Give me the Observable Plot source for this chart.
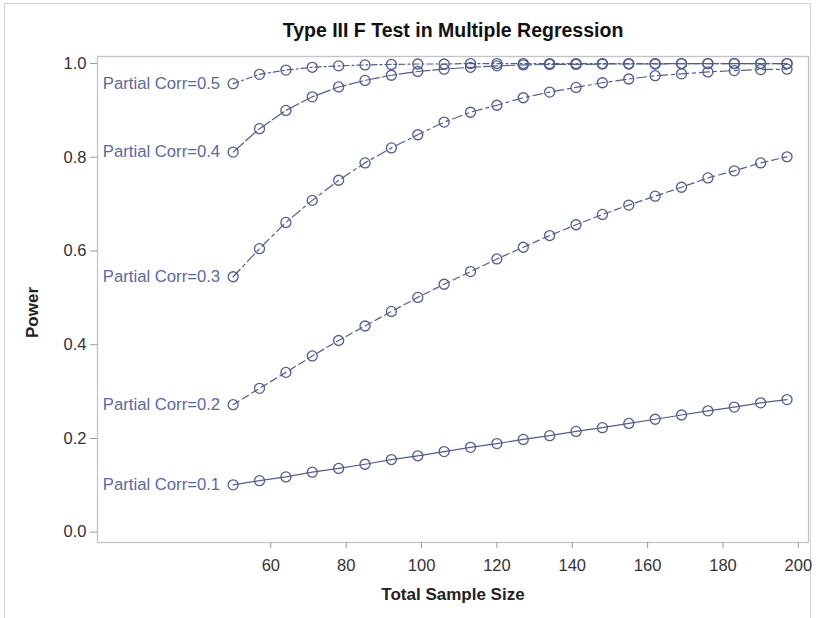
<!DOCTYPE html>
<html>
<head>
<meta charset="utf-8">
<script src="https://cdn.jsdelivr.net/npm/d3@7"></script>
<script src="https://cdn.jsdelivr.net/npm/@observablehq/plot@0.6"></script>
<style>
  html, body { margin: 0; padding: 0; background: #fff; }
  #wrap { position: relative; width: 816px; height: 618px; overflow: hidden; }
  #border { position: absolute; left: 4px; top: 3px; width: 807px; height: 640px; border: 1px solid #d4d4d4; box-sizing: border-box; }
  #chart { position: absolute; left: 0; top: 0; }
</style>
</head>
<body>
<div id="wrap"><div id="border"></div><div id="chart"></div></div>
<script>
const title = "Type III F Test in Multiple Regression";
const xLabel = "Total Sample Size";
const yLabel = "Power";
const sampleSizes = [50, 57, 64, 71, 78, 85, 92, 99, 106, 113, 120, 127, 134, 141, 148, 155, 162, 169, 176, 183, 190, 197];
const partialCorrs = ["0.1", "0.2", "0.3", "0.4", "0.5"];
const power01 = [0.101, 0.110, 0.118, 0.128, 0.136, 0.145, 0.155, 0.163, 0.172, 0.181, 0.189, 0.198, 0.206, 0.215, 0.223, 0.232, 0.241, 0.250, 0.259, 0.267, 0.276, 0.283];
const power02 = [0.272, 0.307, 0.341, 0.376, 0.409, 0.440, 0.471, 0.501, 0.529, 0.556, 0.583, 0.608, 0.633, 0.656, 0.678, 0.698, 0.717, 0.736, 0.756, 0.771, 0.788, 0.801];
const power03 = [0.545, 0.605, 0.661, 0.708, 0.751, 0.788, 0.820, 0.848, 0.875, 0.896, 0.911, 0.927, 0.939, 0.949, 0.959, 0.967, 0.974, 0.978, 0.982, 0.985, 0.987, 0.988];
const power04 = [0.811, 0.861, 0.900, 0.929, 0.950, 0.964, 0.975, 0.983, 0.988, 0.992, 0.995, 0.997, 0.998, 0.998, 0.999, 0.999, 0.999, 1.000, 1.000, 1.000, 1.000, 1.000];
const power05 = [0.957, 0.977, 0.986, 0.992, 0.995, 0.997, 0.998, 0.999, 0.999, 1.000, 1.000, 1.000, 1.000, 1.000, 1.000, 1.000, 1.000, 1.000, 1.000, 1.000, 1.000, 1.000];
const xTicks = [60, 80, 100, 120, 140, 160, 180, 200];
const yTicks = [0, 0.2, 0.4, 0.6, 0.8, 1.0];

const seriesValues = [power01, power02, power03, power04, power05];
const dashes = ["none", "7,4", "10,4,3,4", "14,3", "6,3,2,3"];
const lineColor = "#4f5c98";
const labelColor = "#5a69a6";
const font = "Arial, 'Liberation Sans', Helvetica, sans-serif";

const rows = [];
partialCorrs.forEach((c, i) => {
  sampleSizes.forEach((n, j) => rows.push({corr: c, n, power: seriesValues[i][j]}));
});

const lineMarks = partialCorrs.map((c, i) =>
  Plot.line(rows.filter(d => d.corr === c), {
    x: "n", y: "power", stroke: lineColor, strokeWidth: 1.2,
    strokeDasharray: dashes[i] === "none" ? undefined : dashes[i]
  })
);

const chart = Plot.plot({
  width: 816,
  height: 618,
  marginLeft: 97,
  marginRight: 8,
  marginTop: 56,
  marginBottom: 76,
  style: {fontFamily: font, background: "transparent", overflow: "visible"},
  x: {domain: [14, 202.7]},
  y: {domain: [-0.022, 1.015]},
  marks: [
    Plot.frame({stroke: "#c4c4c4", strokeWidth: 1.3}),
    Plot.axisX({ticks: xTicks, tickSize: 6, tickPadding: 11, stroke: "#9a9a9a", fill: "#333", fontSize: 16.5, label: null}),
    Plot.axisY({ticks: yTicks, tickFormat: d3.format(".1f"), tickSize: 7, tickPadding: 4, stroke: "#9a9a9a", fill: "#333", fontSize: 16.5, label: null}),
    ...lineMarks,
    Plot.dot(rows, {x: "n", y: "power", r: 5, stroke: lineColor, strokeWidth: 1.3, fill: "none"}),
    Plot.text(rows.filter(d => d.n === sampleSizes[0]), {
      x: "n", y: "power", text: d => `Partial Corr=${d.corr}`, textAnchor: "end", dx: -13,
      fill: labelColor, fontSize: 16.7
    }),
    Plot.text([xLabel], {frameAnchor: "bottom", dy: 57, fontSize: 17, fontWeight: "bold", fill: "#222"}),
    Plot.text([yLabel], {frameAnchor: "left", textAnchor: "middle", lineAnchor: "middle", dx: -65, dy: 13, rotate: -90, fontSize: 17, fontWeight: "bold", fill: "#222"}),
    Plot.text([title], {frameAnchor: "top", dy: -33, fontSize: 19.5, fontWeight: "bold", fill: "#111"})
  ]
});

document.getElementById("chart").appendChild(chart);
</script>
</body>
</html>
